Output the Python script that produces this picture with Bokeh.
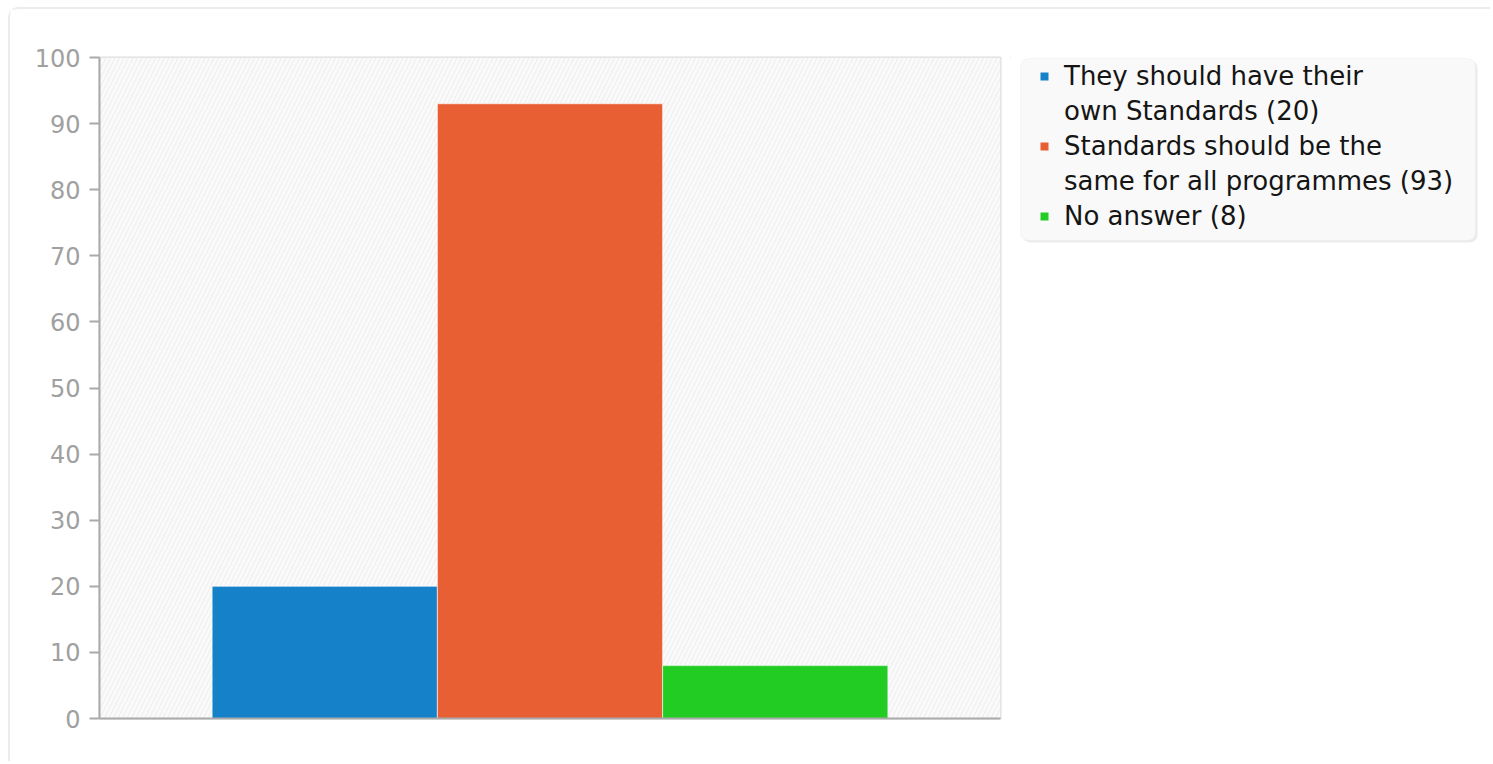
from bokeh.plotting import figure
from bokeh.layouts import row
from bokeh.models import Range1d, Legend, LegendItem, BoxAnnotation, FixedTicker
from bokeh.embed import file_html
from bokeh.resources import INLINE

# ---- data ----
categories = ["They should have their own Standards",
              "Standards should be the same for all programmes",
              "No answer"]
counts = [20, 93, 8]
colors = ["#1581c9", "#e75f33", "#22cc22"]
legend_lines = [["They should have their", "own Standards (20)"],
                ["Standards should be the", "same for all programmes (93)"],
                ["No answer (8)"]]
y_ticks = [0, 10, 20, 30, 40, 50, 60, 70, 80, 90, 100]
xpos = [1, 2, 3]

# page origin of the content (after margin + border)
OX, OY = 10, 9
H = 752
W1 = 1000
W2 = 480
FT, FB = 57, 718   # frame top / bottom in page pixels
BT, BB = FT - OY, H - (FB - OY)

p = figure(width=W1, height=H, output_backend="svg", toolbar_location=None,
           x_range=Range1d(0, 4), y_range=Range1d(0, 100),
           min_border_left=99 - OX, min_border_right=10,
           min_border_top=BT, min_border_bottom=BB)

p.background_fill_color = "#fafafa"
p.border_fill_color = "white"
p.outline_line_color = "#dddddd"
p.outline_line_width = 2

hatch = BoxAnnotation(fill_color="#fafafa", fill_alpha=1.0, line_color=None,
                      hatch_pattern="/", hatch_color="#ececec", hatch_scale=9,
                      hatch_weight=1, level="underlay")
p.add_layout(hatch)

# grids
p.ygrid.ticker = FixedTicker(ticks=y_ticks)
p.ygrid.grid_line_color = "#e2e2e2"
p.ygrid.grid_line_dash = "8 6"
p.ygrid.grid_line_width = 1
p.xgrid.ticker = FixedTicker(ticks=[2])
p.xgrid.grid_line_color = "#e2e2e2"
p.xgrid.grid_line_dash = "8 6"

# axes
p.yaxis.ticker = FixedTicker(ticks=y_ticks)
p.yaxis.axis_line_color = "#aaaaaa"
p.yaxis.axis_line_width = 2
p.yaxis.major_tick_line_color = "#aaaaaa"
p.yaxis.major_tick_line_width = 2
p.yaxis.major_tick_out = 10
p.yaxis.major_tick_in = 0
p.yaxis.minor_tick_line_color = None
p.yaxis.major_label_text_font = "DejaVu Sans"
p.yaxis.major_label_text_font_size = "24px"
p.yaxis.major_label_text_color = "#a0a0a0"
p.yaxis.major_label_standoff = 9

p.xaxis.ticker = FixedTicker(ticks=[])
p.xaxis.axis_line_color = "#aaaaaa"
p.xaxis.axis_line_width = 2
p.xaxis.major_tick_line_color = None
p.xaxis.minor_tick_line_color = None
p.xaxis.major_label_text_font_size = "0px"

for i in range(len(categories)):
    p.vbar(x=[xpos[i]], top=[counts[i]], width=1.0, bottom=0,
           fill_color=colors[i], line_color="white", line_alpha=0.6, line_width=1)

# ---- legend panel (its own canvas, in page pixel coordinates) ----
X0 = OX + W1
p2 = figure(width=W2, height=H, output_backend="svg", toolbar_location=None,
            x_range=Range1d(X0, X0 + W2), y_range=Range1d(FB, FT),
            min_border_left=0, min_border_right=0,
            min_border_top=BT, min_border_bottom=BB)
p2.axis.visible = False
p2.grid.visible = False
p2.outline_line_color = None
p2.background_fill_color = "white"
p2.border_fill_color = "white"

shadow = BoxAnnotation(left=1022, right=1477, top=60, bottom=242,
                       fill_color="#dddddd", fill_alpha=0.6, line_color=None,
                       border_radius=8, level="underlay")
bg = BoxAnnotation(left=1020, right=1475, top=58, bottom=240,
                   fill_color="#f9f9f9", fill_alpha=1.0,
                   line_color="#e6e6e6", line_width=1, border_radius=8,
                   level="underlay")
p2.add_layout(shadow)
p2.add_layout(bg)

swatches = []
for i in range(len(categories)):
    r = p2.vbar(x=[-1000], top=[0], width=1.0, fill_color=colors[i], line_color=None)
    swatches.append(r)
blank = p2.vbar(x=[-1000], top=[0], width=1.0, fill_alpha=0, line_alpha=0)

items = []
for i, lines in enumerate(legend_lines):
    items.append(LegendItem(label=lines[0], renderers=[swatches[i]]))
    for extra in lines[1:]:
        items.append(LegendItem(label=extra, renderers=[blank]))

legend = Legend(items=items, location=(1039 - X0, FB - 231), padding=0, margin=0,
                glyph_width=10, glyph_height=10, label_standoff=15,
                label_text_font="DejaVu Sans", label_text_font_size="26px",
                label_text_color="#151515", label_height=30, spacing=5,
                background_fill_alpha=0, border_line_color=None)
p2.add_layout(legend)

layout = row(p, p2, spacing=0)
layout.styles = {"margin-left": "8px", "margin-top": "7px",
                 "border-left": "2px solid #ececec", "border-top": "2px solid #ececec",
                 "border-top-left-radius": "10px"}

open("out.html", "w").write(file_html(layout, INLINE))
